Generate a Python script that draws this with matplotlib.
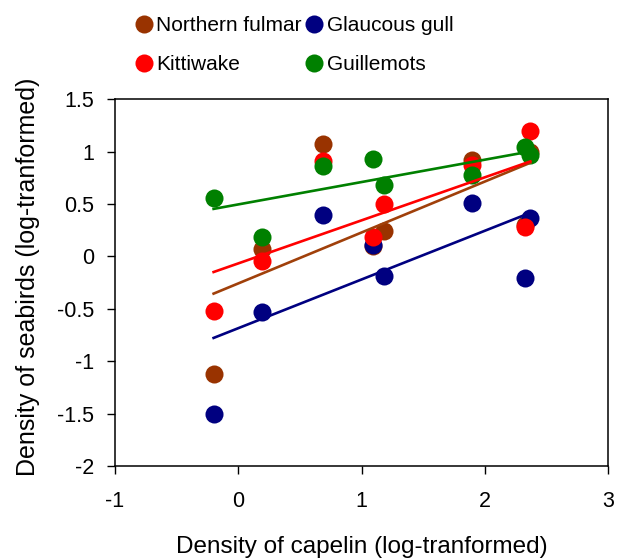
import numpy as np
import matplotlib
matplotlib.use("Agg")
import matplotlib.pyplot as plt

plt.rcParams["font.family"] = ["Liberation Sans", "DejaVu Sans"]

# capelin density (log) per survey, same for every species
capelin = [-0.2, 0.19, 0.69, 1.09, 1.18, 1.90, 2.33, 2.37]

fulmar = [-1.12, 0.07, 1.07, 0.10, 0.24, 0.92, 0.30, 1.00]
glaucous = [-1.50, -0.53, 0.40, 0.11, -0.19, 0.51, -0.21, 0.37]
kittiwake = [-0.52, -0.04, 0.91, 0.19, 0.50, 0.87, 0.28, 1.20]
guillemot = [0.56, 0.19, 0.86, 0.93, 0.68, 0.78, 1.04, 0.97]

species = ["Northern fulmar", "Glaucous gull", "Kittiwake", "Guillemots"]
series = [fulmar, glaucous, kittiwake, guillemot]
dot_col = ["#993300", "#000080", "#FF0000", "#008000"]
line_col = ["#A0400A", "#000080", "#FF0000", "#008000"]

fig = plt.figure(figsize=(6.17, 5.59), dpi=100)
ax = fig.add_axes([0.1864, 0.1664, 0.799, 0.656])

x = np.array(capelin)
handles = {}
for name, y, dc in zip(species, series, dot_col):
    h, = ax.plot(x, y, "o", color=dc, ms=13, mec="none", zorder=2, label=name)
    handles[name] = h
for y, lc in zip(series, line_col):
    b, a = np.polyfit(x, y, 1)
    xx = np.array([x.min(), x.max()])
    ax.plot(xx, a + b * xx, "-", color=lc, lw=1.9, zorder=3)

ax.set_xlim(-1, 3); ax.set_ylim(-2, 1.5)
ax.set_xticks([-1, 0, 1, 2, 3]); ax.set_xticklabels(["-1", "0", "1", "2", "3"])
ax.set_yticks(np.arange(-2, 1.51, 0.5))
ax.set_yticklabels(["-2", "-1.5", "-1", "-0.5", "0", "0.5", "1", "1.5"])
ax.tick_params(direction="out", length=6, width=1, labelsize=15.5)
ax.tick_params(axis="y", pad=9)
ax.tick_params(axis="x", pad=12)
for s in ax.spines.values():
    s.set_linewidth(1.1)
ax.set_xlabel("Density of capelin (log-tranformed)", fontsize=17.5, va="bottom")
ax.set_ylabel("Density of seabirds (log-tranformed)", fontsize=18)
ax.xaxis.set_label_coords(0.5, -0.25)
ax.yaxis.set_label_coords(-0.152, 0.515)

# row-major order like the original: fulmar, glaucous / kittiwake, guillemots
order = ["Northern fulmar", "Kittiwake", "Glaucous gull", "Guillemots"]
fig.legend(handles=[handles[k] for k in order], loc="upper left",
           bbox_to_anchor=(0.2058, 0.99), ncol=2, frameon=False, fontsize=15,
           handlelength=0.6, handletextpad=0.3, columnspacing=0.3,
           labelspacing=0.95, borderpad=0.2, borderaxespad=0.3, markerscale=1.0)

fig.savefig("out.png", dpi=100)
